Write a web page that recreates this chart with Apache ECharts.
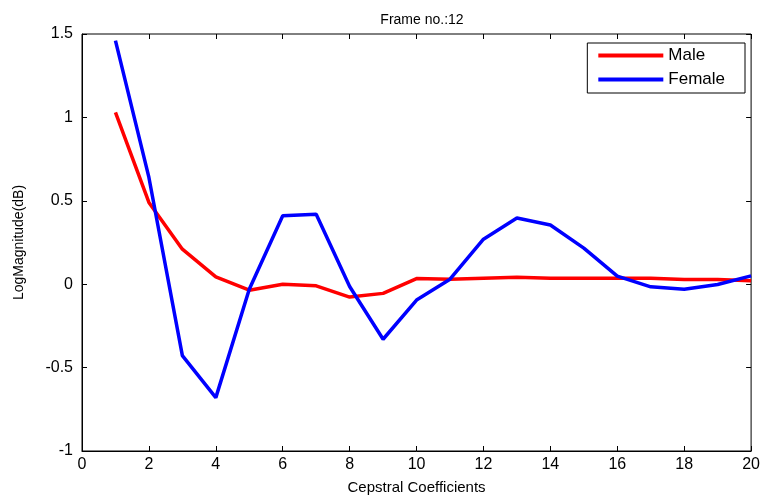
<!DOCTYPE html>
<html>
<head>
<meta charset="utf-8">
<script src="https://cdn.jsdelivr.net/npm/echarts@6/dist/echarts.min.js"></script>
<style>
  html, body { margin: 0; padding: 0; background: #fff; }
  #chart { width: 763px; height: 500px; }
</style>
</head>
<body>
<div id="chart"></div>
<script>
// cepstral coefficient index 1..20
const coeffs = [1, 2, 3, 4, 5, 6, 7, 8, 9, 10, 11, 12, 13, 14, 15, 16, 17, 18, 19, 20]
const male = [1.03, 0.49, 0.21, 0.044, -0.036, 0.0, -0.01, -0.077, -0.055, 0.034, 0.03, 0.036, 0.042, 0.036, 0.035, 0.035, 0.035, 0.028, 0.028, 0.02]
const female = [1.46, 0.64, -0.428, -0.68, -0.03, 0.41, 0.42, -0.014, -0.33, -0.095, 0.03, 0.27, 0.397, 0.355, 0.216, 0.048, -0.016, -0.03, -0.002, 0.05]
const xTicks = [0, 2, 4, 6, 8, 10, 12, 14, 16, 18, 20]
const yTicks = [-1, -0.5, 0, 0.5, 1, 1.5]

const font = 'Liberation Sans, Arial, sans-serif'
let chart = echarts.init(document.getElementById('chart'))

const pairs = arr => coeffs.map((c, i) => [c, arr[i]])
const hiddenAxis = {
  axisLine: { show: false, onZero: false },
  axisLabel: { show: false },
  splitLine: { show: false },
  axisTick: { inside: true, length: 5, lineStyle: { color: '#000' } }
}

let options = {
  animation: false,
  title: {
    text: 'Frame no.:12',
    left: 417,
    top: 8,
    textAlign: 'center',
    textStyle: { fontFamily: font, fontSize: 14, fontWeight: 'normal', color: '#000' }
  },
  grid: {
    left: 82, right: 11, top: 34, bottom: 48,
    show: true, borderColor: '#000', borderWidth: 1, backgroundColor: '#fff'
  },
  legend: {
    right: 18, top: 43,
    orient: 'vertical',
    backgroundColor: '#fff',
    borderColor: '#000', borderWidth: 1,
    padding: [4, 20, 5, 11],
    itemGap: 7,
    itemWidth: 65, itemHeight: 4,
    icon: 'rect',
    textStyle: { fontFamily: font, fontSize: 17, color: '#000' },
    data: ['Male', 'Female']
  },
  xAxis: [
    {
      type: 'value', min: 0, max: 20, interval: 2,
      name: 'Cepstral Coefficients', nameLocation: 'middle', nameGap: 29,
      nameTextStyle: { fontFamily: font, fontSize: 15, color: '#000' },
      axisLine: { onZero: false, lineStyle: { color: '#000', width: 1 } },
      axisTick: { inside: true, length: 5, lineStyle: { color: '#000' } },
      axisLabel: { fontFamily: font, fontSize: 16, color: '#000', margin: 6,
        formatter: v => xTicks.includes(v) ? String(v) : '' },
      splitLine: { show: false }
    },
    Object.assign({ type: 'value', min: 0, max: 20, interval: 2, position: 'top' }, hiddenAxis)
  ],
  yAxis: [
    {
      type: 'value', min: -1, max: 1.5, interval: 0.5,
      name: 'LogMagnitude(dB)', nameLocation: 'middle', nameGap: 56,
      nameTextStyle: { fontFamily: font, fontSize: 14, color: '#000' },
      axisLine: { onZero: false, lineStyle: { color: '#000', width: 1 } },
      axisTick: { inside: true, length: 5, lineStyle: { color: '#000' } },
      axisLabel: { fontFamily: font, fontSize: 16, color: '#000', margin: 9,
        formatter: v => yTicks.includes(v) ? String(v) : '' },
      splitLine: { show: false }
    },
    Object.assign({ type: 'value', min: -1, max: 1.5, interval: 0.5, position: 'right' }, hiddenAxis)
  ],
  series: [
    {
      name: 'Male', type: 'line', data: pairs(male),
      showSymbol: false, color: '#ff0000',
      lineStyle: { width: 3.5, color: '#ff0000' }
    },
    {
      name: 'Female', type: 'line', data: pairs(female),
      showSymbol: false, color: '#0000ff',
      lineStyle: { width: 3.5, color: '#0000ff' }
    }
  ]
}
chart.setOption(options)
</script>
</body>
</html>
